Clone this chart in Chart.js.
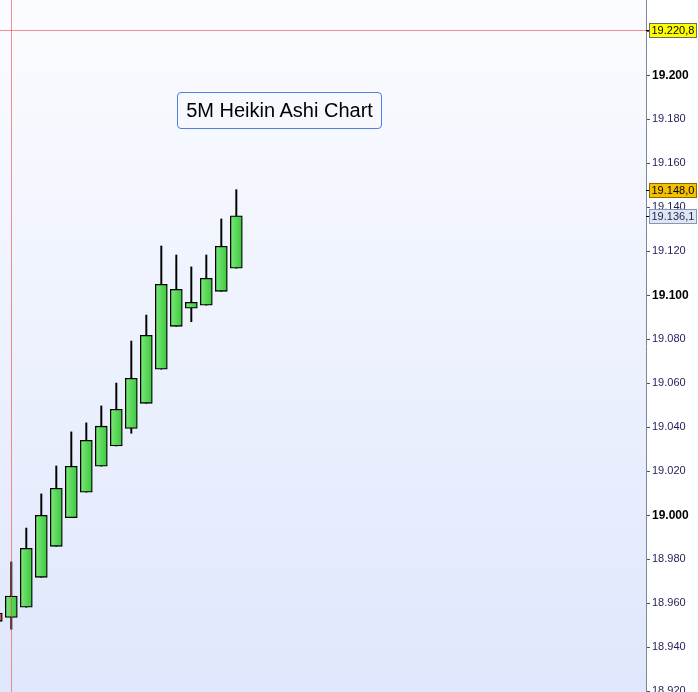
<!DOCTYPE html>
<html>
<head>
<meta charset="utf-8">
<script src="https://cdn.jsdelivr.net/npm/chart.js@4/dist/chart.umd.min.js"></script>
<style>
  html, body { margin: 0; padding: 0; background: #ffffff; }
  #wrap { position: relative; width: 698px; height: 692px; }
  #title {
    position: absolute; left: 177px; top: 92px; width: 203px; height: 35px;
    border: 1px solid #4f7fe0; border-radius: 4px;
    font: 20px "Liberation Sans", Arial, sans-serif; color: #000;
    display: flex; align-items: center; justify-content: center;
    box-sizing: content-box;
  }
</style>
</head>
<body>
<div id="wrap">
  <canvas id="c" width="698" height="692"></canvas>
  <div id="title">5M Heikin Ashi Chart</div>
</div>
<script>
// Bar slots (bar 0 sits under the vertical crosshair)
const barIndex = [-1, 0, 1, 2, 3, 4, 5, 6, 7, 8, 9, 10, 11, 12, 13, 14, 15];
const opens  = [18.9556, 18.9536, 18.9582, 18.9718, 18.9859, 18.9989, 19.0105, 19.0223, 19.0315, 19.0395, 19.0509, 19.0664, 19.0859, 19.0941, 19.0955, 19.1018, 19.1123];
const closes = [18.9518, 18.9633, 18.9850, 19.0000, 19.0123, 19.0223, 19.0341, 19.0405, 19.0482, 19.0623, 19.0818, 19.1050, 19.1027, 19.0968, 19.1077, 19.1223, 19.1361];
const highs  = [18.9556, 18.9788, 18.9942, 19.0097, 19.0224, 19.0379, 19.0420, 19.0497, 19.0601, 19.0792, 19.0910, 19.1224, 19.1183, 19.1129, 19.1183, 19.1347, 19.1480];
const lows   = [18.9518, 18.9482, 18.9582, 18.9718, 18.9859, 18.9989, 19.0105, 19.0223, 19.0315, 19.0373, 19.0509, 19.0664, 19.0859, 19.0880, 19.0955, 19.1018, 19.1123];

// Price axis ticks
const tickValues = [18.92, 18.94, 18.96, 18.98, 19.00, 19.02, 19.04, 19.06, 19.08, 19.10, 19.12, 19.14, 19.16, 19.18, 19.20, 19.22];

// Crosshair position
const crossBar = 0;
const crossPrice = 19.2208;

// Price tags on the axis
const lastHigh = highs[highs.length - 1];
const lastClose = closes[closes.length - 1];
const priceTags = [
  { value: crossPrice, fill: '#ffff00', stroke: '#6a6a6a', color: '#000000' },
  { value: lastHigh,   fill: '#f6c000', stroke: '#8a6a00', color: '#000000' },
  { value: lastClose,  fill: '#dfe6f2', stroke: '#8595b5', color: '#1e1e5a' }
];

function fmtTag(v) {
  const s = v.toFixed(4);
  return s.slice(0, -1) + ',' + s.slice(-1);
}

const backdrop = {
  id: 'backdrop',
  beforeDraw(chart) {
    const { ctx, chartArea: a } = chart;
    ctx.save();
    ctx.fillStyle = '#ffffff';
    ctx.fillRect(0, 0, chart.width, chart.height);
    const g = ctx.createLinearGradient(0, a.top, 0, a.bottom);
    g.addColorStop(0, '#fbfcff');
    g.addColorStop(1, '#dfe7fc');
    ctx.fillStyle = g;
    ctx.fillRect(a.left, a.top, a.right - a.left, a.bottom - a.top);
    ctx.restore();
  }
};

const crosshair = {
  id: 'crosshair',
  afterDatasetsDraw(chart) {
    const { ctx, chartArea: a, scales } = chart;
    const x = Math.round(scales.x.getPixelForValue(crossBar)) + 0.5;
    const y = Math.round(scales.y.getPixelForValue(crossPrice)) + 0.5;
    ctx.save();
    ctx.strokeStyle = 'rgba(240, 70, 70, 0.6)';
    ctx.lineWidth = 1;
    ctx.beginPath();
    ctx.moveTo(x, a.top); ctx.lineTo(x, a.bottom);
    ctx.moveTo(a.left, y); ctx.lineTo(a.right, y);
    ctx.stroke();
    ctx.restore();
  }
};

const tags = {
  id: 'tags',
  afterDraw(chart) {
    const { ctx, chartArea: a, scales } = chart;
    ctx.save();
    ctx.font = '11px "Liberation Sans", Arial, sans-serif';
    ctx.textBaseline = 'middle';
    ctx.textAlign = 'left';
    priceTags.forEach(t => {
      const y = Math.round(scales.y.getPixelForValue(t.value));
      const bx = Math.round(a.right) + 3.5, bw = 47, bh = 14;
      const by = y - bh / 2 + 0.5;
      ctx.strokeStyle = '#000000';
      ctx.lineWidth = 1;
      ctx.beginPath();
      ctx.moveTo(a.right, y + 0.5); ctx.lineTo(bx, y + 0.5);
      ctx.stroke();
      ctx.fillStyle = t.fill;
      ctx.fillRect(bx, by, bw, bh);
      ctx.strokeStyle = t.stroke;
      ctx.strokeRect(bx, by, bw, bh);
      ctx.fillStyle = t.color;
      ctx.fillText(fmtTag(t.value), bx + 2, y + 1);
    });
    ctx.restore();
  }
};

function bodyFill(c) {
  const i = c.dataIndex;
  const up = i === undefined || closes[i] >= opens[i];
  const solid = up ? '#5cd65c' : '#e05a5a';
  if (c.type !== 'data') return solid;
  const xs = c.chart.scales.x;
  if (!xs) return solid;
  const px = xs.getPixelForValue(barIndex[i]);
  if (!Number.isFinite(px)) return solid;
  const g = c.chart.ctx.createLinearGradient(px - 6, 0, px + 6, 0);
  if (up) {
    g.addColorStop(0, '#7aea7a');
    g.addColorStop(1, '#3ec63e');
  } else {
    g.addColorStop(0, '#f07a7a');
    g.addColorStop(1, '#d84848');
  }
  return g;
}

function isMajor(v) {
  return Math.abs(v * 10 - Math.round(v * 10)) < 1e-6;
}

new Chart(document.getElementById('c'), {
  type: 'bar',
  data: {
    datasets: [
      {
        label: 'wick',
        data: barIndex.map((k, i) => ({ x: k, y: [lows[i], highs[i]] })),
        backgroundColor: '#000000',
        borderWidth: 0,
        barThickness: 1.3,
        grouped: false,
        order: 2
      },
      {
        label: 'body',
        data: barIndex.map((k, i) => ({ x: k, y: [opens[i], closes[i]] })),
        backgroundColor: bodyFill,
        borderColor: '#000000',
        borderWidth: 1.3,
        borderSkipped: false,
        barThickness: 12,
        grouped: false,
        order: 1
      }
    ]
  },
  options: {
    responsive: false,
    animation: false,
    events: [],
    layout: { padding: 0 },
    plugins: { legend: { display: false }, tooltip: { enabled: false }, title: { display: false } },
    scales: {
      x: {
        type: 'linear',
        display: false,
        offset: false,
        min: -0.753,
        max: 42.31
      },
      y: {
        type: 'linear',
        position: 'right',
        min: 18.91967,
        max: 19.23422,
        afterBuildTicks(scale) {
          scale.ticks = tickValues.map(v => ({ value: v }));
        },
        afterFit(scale) {
          scale.width = 52;
          scale.paddingTop = 0;
          scale.paddingBottom = 0;
        },
        border: { display: true, color: '#7d8897', width: 1 },
        grid: { drawOnChartArea: false, drawTicks: true, tickLength: 4, color: '#555555' },
        ticks: {
          padding: 2,
          autoSkip: false,
          callback: (v) => Number(v).toFixed(3),
          color: (c) => (c.tick && isMajor(c.tick.value) ? '#000000' : '#1e1e5a'),
          font: (c) => (c.tick && isMajor(c.tick.value)
            ? { family: '"Liberation Sans", Arial, sans-serif', size: 12, weight: 'bold' }
            : { family: '"Liberation Sans", Arial, sans-serif', size: 11 })
        }
      }
    }
  },
  plugins: [backdrop, crosshair, tags]
});
</script>
</body>
</html>
